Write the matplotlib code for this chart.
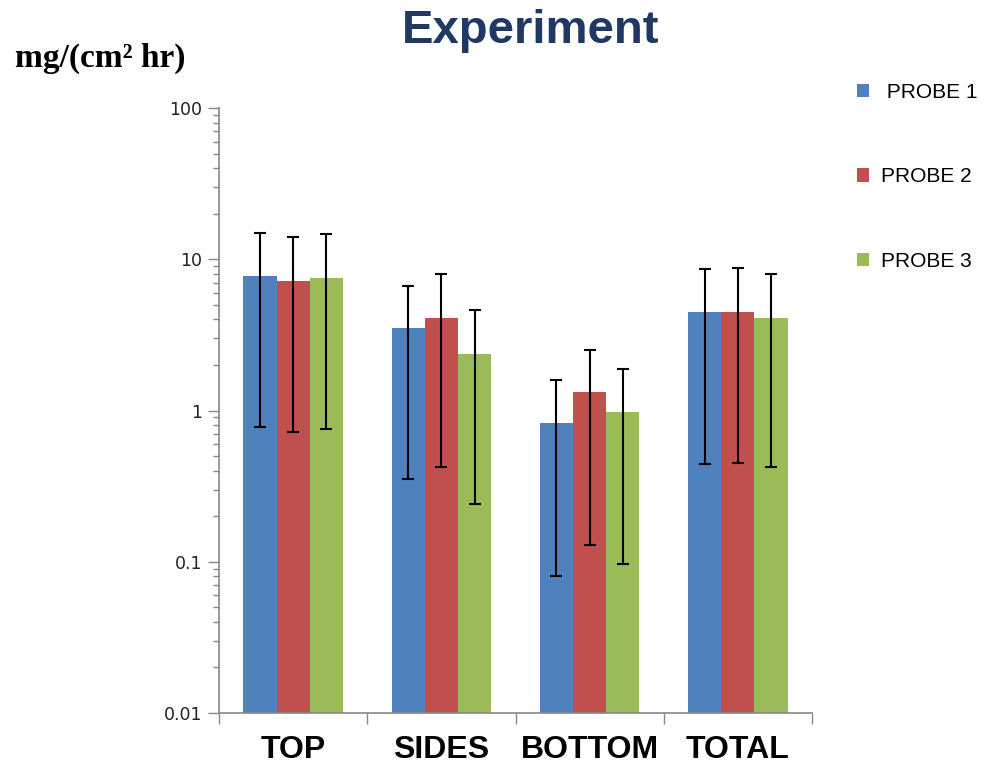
import matplotlib
matplotlib.use("Agg")
import matplotlib.pyplot as plt
import numpy as np
from matplotlib.ticker import LogLocator, FixedLocator, NullFormatter, FixedFormatter

categories = ["TOP", "SIDES", "BOTTOM", "TOTAL"]
series = ["PROBE 1", "PROBE 2", "PROBE 3"]
legend_labels = [" PROBE 1", "PROBE 2", "PROBE 3"]
values = {
    "PROBE 1": [7.7, 3.49, 0.83, 4.5],
    "PROBE 2": [7.15, 4.07, 1.32, 4.5],
    "PROBE 3": [7.5, 2.38, 0.98, 4.07],
}
err_upper = {
    "PROBE 1": [14.9, 6.7, 1.6, 8.6],
    "PROBE 2": [14.0, 7.95, 2.5, 8.7],
    "PROBE 3": [14.6, 4.6, 1.87, 7.95],
}
err_lower = {
    "PROBE 1": [0.78, 0.355, 0.081, 0.446],
    "PROBE 2": [0.726, 0.42, 0.13, 0.45],
    "PROBE 3": [0.75, 0.242, 0.097, 0.42],
}
colors = ["#4F81BD", "#C0504D", "#9BBB59"]
ytick_vals = [0.01, 0.1, 1, 10, 100]
ytick_labels = ["0.01", "0.1", "1", "10", "100"]

fig = plt.figure(figsize=(9.84, 7.65), dpi=100)
ax = fig.add_axes([219/984, 1-713/765, (812-219)/984, (713-108)/765])

x = np.arange(len(categories)) + 0.5
w = 0.224
for i, s in enumerate(series):
    v = np.array(values[s])
    lo = v - np.array(err_lower[s])
    hi = np.array(err_upper[s]) - v
    ax.bar(x + (i-1)*w, v, width=w, color=colors[i], label=legend_labels[i],
           yerr=[lo, hi], error_kw=dict(ecolor="black", elinewidth=1.5, capsize=4, capthick=1.5),
           zorder=2)

ax.set_yscale("log")
ax.set_ylim(0.01, 100)
ax.set_xlim(0, 4)
ax.yaxis.set_major_locator(FixedLocator(ytick_vals))
ax.yaxis.set_major_formatter(FixedFormatter(ytick_labels))
ax.yaxis.set_minor_locator(LogLocator(base=10, subs=np.arange(2, 10)))
ax.yaxis.set_minor_formatter(NullFormatter())
ax.tick_params(axis="y", which="major", length=8, width=1, color="#888888", labelsize=12.5, labelcolor="#222222", pad=4)
ax.tick_params(axis="y", which="minor", length=4, width=1, color="#888888")

ax.set_xticks(np.arange(0, 5))
ax.set_xticklabels([])
ax.set_xticks(x, minor=True)
ax.set_xticklabels(categories, minor=True, fontsize=23, fontweight="bold", family="Liberation Sans")
ax.tick_params(axis="x", which="major", length=8, width=1, color="#888888", direction="out")
ax.tick_params(axis="x", which="minor", length=0, pad=16)

for sp in ["top", "right"]:
    ax.spines[sp].set_visible(False)
for sp in ["left", "bottom"]:
    ax.spines[sp].set_color("#888888")
    ax.spines[sp].set_linewidth(1.2)

fig.text(531/984, 1-31/765, "Experiment", ha="center", va="center", fontsize=34,
         fontweight="bold", color="#1F3864", family="Liberation Sans")
fig.text(15/984, 1-58/765, "mg/(cm² hr)", ha="left", va="center", fontsize=24,
         fontweight="bold", family="Liberation Serif", color="black")

handles, labels = ax.get_legend_handles_labels()
leg = fig.legend(handles, labels, loc="upper left", bbox_to_anchor=(838/984, 1-64/765),
                 frameon=False, handlelength=0.6, handleheight=0.6,
                 handletextpad=0.55, labelspacing=3.15, prop={"family": "Liberation Sans", "size": 15})

fig.savefig("out.png", dpi=100)
